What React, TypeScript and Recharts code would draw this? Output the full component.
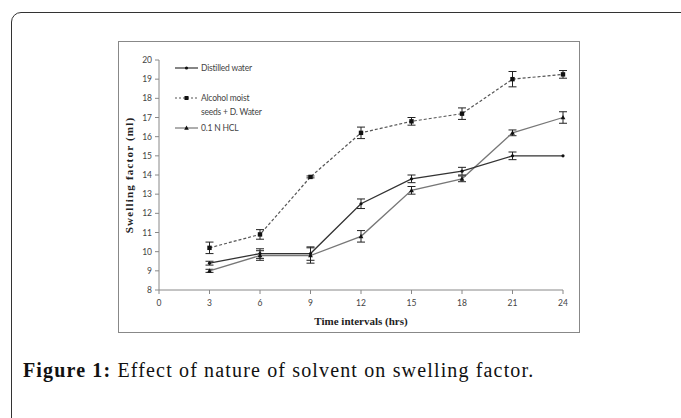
import { ErrorBar, Legend, Line, LineChart, XAxis, YAxis } from "recharts";

const HOURS = [3, 6, 9, 12, 15, 18, 21, 24];
const DISTILLED = [9.4, 9.9, 9.9, 12.5, 13.8, 14.2, 15.0, 15.0];
const DISTILLED_ERR = [0.1, 0.25, 0.35, 0.25, 0.2, 0.2, 0.2, 0];
const ALCOHOL = [10.2, 10.9, 13.9, 16.2, 16.8, 17.2, 19.0, 19.25];
const ALCOHOL_ERR = [0.3, 0.25, 0.05, 0.3, 0.2, 0.3, 0.4, 0.2];
const HCL = [9.0, 9.8, 9.8, 10.8, 13.2, 13.8, 16.2, 17.0];
const HCL_ERR = [0.08, 0.25, 0.4, 0.3, 0.2, 0.15, 0.15, 0.3];
const X_TICKS = [0, 3, 6, 9, 12, 15, 18, 21, 24];
const Y_TICKS = [8, 9, 10, 11, 12, 13, 14, 15, 16, 17, 18, 19, 20];

const data = HOURS.map((h, i) => ({
  h,
  distilled: DISTILLED[i],
  distilledErr: DISTILLED_ERR[i],
  alcohol: ALCOHOL[i],
  alcoholErr: ALCOHOL_ERR[i],
  hcl: HCL[i],
  hclErr: HCL_ERR[i],
}));

const SANS = "Lato, 'Noto Sans', sans-serif";
const SERIF = "'Liberation Serif', 'DejaVu Serif', serif";

type DotProps = { cx?: number; cy?: number; index?: number };

const dotRound = ({ cx, cy, index }: DotProps) =>
  cx == null || cy == null ? <g key={`r${index}`} /> : <circle key={`r${index}`} cx={cx} cy={cy} r={1.6} fill="#111" />;

const dotSquare = ({ cx, cy, index }: DotProps) =>
  cx == null || cy == null ? (
    <g key={`s${index}`} />
  ) : (
    <rect key={`s${index}`} x={cx - 2.2} y={cy - 2.2} width={4.4} height={4.4} fill="#111" />
  );

const dotTri = ({ cx, cy, index }: DotProps) =>
  cx == null || cy == null ? (
    <g key={`t${index}`} />
  ) : (
    <polygon key={`t${index}`} points={`${cx},${cy - 2.6} ${cx + 2.4},${cy + 1.8} ${cx - 2.4},${cy + 1.8}`} fill="#111" />
  );

function LegendSample({ dashed, marker, color }: { dashed?: boolean; marker: "round" | "square" | "tri"; color: string }) {
  return (
    <svg width={24} height={8} style={{ display: "block" }}>
      <line x1={0} y1={4} x2={23} y2={4} stroke={color} strokeWidth={1.2} strokeDasharray={dashed ? "2 2" : undefined} />
      {marker === "round" && <circle cx={11.5} cy={4} r={1.6} fill="#111" />}
      {marker === "square" && <rect x={9.5} y={2} width={4} height={4} fill="#111" />}
      {marker === "tri" && <polygon points="11.5,1.5 13.8,5.8 9.2,5.8" fill="#111" />}
    </svg>
  );
}

const legendText = { fontFamily: SANS, fontSize: 8.5, color: "#444", lineHeight: "14px", letterSpacing: -0.2 };

const renderLegend = () => (
  <div style={{ width: 160 }}>
    <div style={{ display: "flex", alignItems: "center", height: 14 }}>
      <LegendSample marker="round" color="#333" />
      <span style={{ ...legendText, marginLeft: 2 }}>Distilled water</span>
    </div>
    <div style={{ display: "flex", alignItems: "flex-start", marginTop: 16 }}>
      <div style={{ paddingTop: 3 }}>
        <LegendSample dashed marker="square" color="#555" />
      </div>
      <span style={{ ...legendText, marginLeft: 2 }}>
        Alcohol moist
        <br />
        seeds + D. Water
      </span>
    </div>
    <div style={{ display: "flex", alignItems: "center", height: 14, marginTop: 2 }}>
      <LegendSample marker="tri" color="#777" />
      <span style={{ ...legendText, marginLeft: 2 }}>0.1 N HCL</span>
    </div>
  </div>
);

const tickStyle = { fontFamily: SANS, fontSize: 8.5, fill: "#444" };

export default function App() {
  return (
    <div style={{ position: "absolute", left: 0, top: 0, width: 681, height: 418, overflow: "hidden", background: "#fff" }}>
      <div
        style={{
          position: "absolute",
          left: 11,
          top: 12,
          width: 700,
          height: 440,
          border: "1.5px solid #333",
          borderRadius: 10,
        }}
      />
      <div
        style={{
          position: "absolute",
          left: 118,
          top: 41,
          width: 460,
          height: 290,
          border: "1.5px solid #888",
        }}
      >
        <LineChart width={460} height={290} data={data} margin={{ top: 18, right: 16, left: 0, bottom: 0 }}>
          <XAxis
            dataKey="h"
            type="number"
            domain={[0, 24]}
            ticks={X_TICKS}
            interval={0}
            height={42}
            tick={tickStyle}
            tickSize={4}
            tickMargin={6}
            stroke="#888"
            label={{
              value: "Time intervals (hrs)",
              position: "insideBottom",
              offset: 7,
              style: { fontFamily: SERIF, fontWeight: 700, fontSize: 11, fill: "#222" },
            }}
          />
          <YAxis
            type="number"
            domain={[8, 20]}
            ticks={Y_TICKS}
            interval={0}
            width={40}
            tick={tickStyle}
            tickSize={4}
            tickMargin={3}
            stroke="#888"
            label={{
              value: "Swelling factor (ml)",
              angle: -90,
              position: "insideLeft",
              offset: 10,
              style: {
                textAnchor: "middle",
                fontFamily: SERIF,
                fontWeight: 700,
                fontSize: 11,
                letterSpacing: 1.2,
                fill: "#222",
              },
            }}
          />
          <Legend
            layout="vertical"
            align="center"
            verticalAlign="middle"
            content={renderLegend}
            wrapperStyle={{ left: 56, top: 19, width: 160 }}
          />
          <Line
            dataKey="hcl"
            name="0.1 N HCL"
            stroke="#777"
            strokeWidth={1.3}
            dot={dotTri}
            activeDot={false}
            isAnimationActive={false}
          >
            <ErrorBar dataKey="hclErr" width={4} stroke="#222" strokeWidth={1} direction="y" />
          </Line>
          <Line
            dataKey="distilled"
            name="Distilled water"
            stroke="#333"
            strokeWidth={1.3}
            dot={dotRound}
            activeDot={false}
            isAnimationActive={false}
          >
            <ErrorBar dataKey="distilledErr" width={4} stroke="#222" strokeWidth={1} direction="y" />
          </Line>
          <Line
            dataKey="alcohol"
            name="Alcohol moist seeds + D. Water"
            stroke="#555"
            strokeWidth={1.2}
            strokeDasharray="3 2"
            dot={dotSquare}
            activeDot={false}
            isAnimationActive={false}
          >
            <ErrorBar dataKey="alcoholErr" width={4} stroke="#222" strokeWidth={1} direction="y" />
          </Line>
        </LineChart>
      </div>
      <div
        style={{
          position: "absolute",
          left: 23,
          top: 359,
          fontFamily: SERIF,
          fontSize: 20,
          letterSpacing: 1.15,
          color: "#111",
          whiteSpace: "nowrap",
        }}
      >
        <span style={{ fontWeight: 700 }}>Figure 1:</span> Effect of nature of solvent on swelling factor.
      </div>
    </div>
  );
}
